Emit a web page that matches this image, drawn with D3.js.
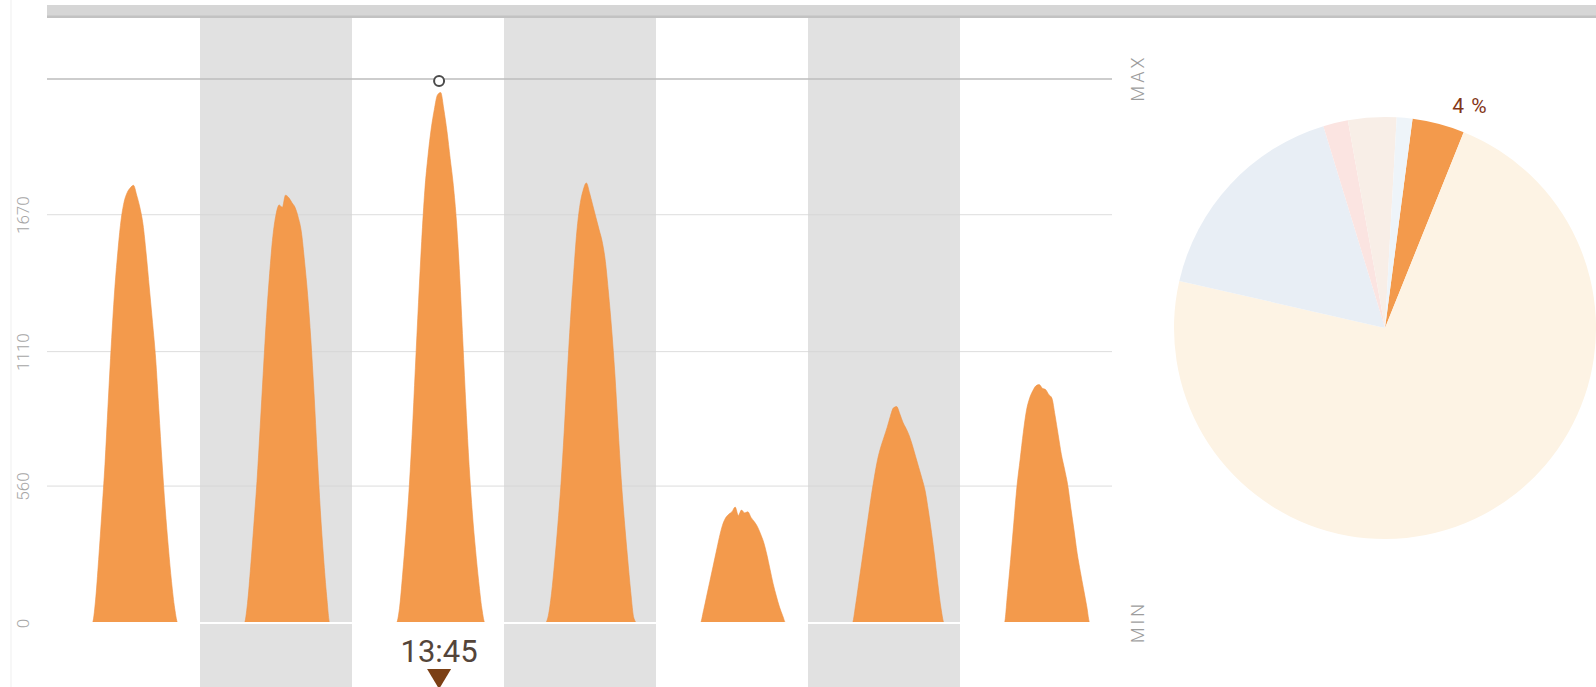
<!DOCTYPE html>
<html>
<head>
<meta charset="utf-8">
<script src="https://cdn.jsdelivr.net/npm/d3@7"></script>
<style>
  html, body { margin: 0; padding: 0; background: #ffffff; }
  svg { display: block; }
</style>
</head>
<body>
<svg id="chart" width="1596" height="687"></svg>
<script>
// Half-hourly output per day, from 06:00 to 22:00 (33 samples each)
const sampleStartHour = 6;
const sampleStepHours = 0.5;
const day1 = [0,0,0,90,260,450,650,900,1140,1350,1510,1640,1720,1760,1780,1790,1750,1700,1630,1510,1370,1230,1080,870,660,470,310,170,60,0,0,0,0];
const day2 = [0,0,0,80,230,400,580,800,1030,1250,1430,1580,1670,1710,1700,1750,1740,1720,1700,1660,1600,1480,1340,1160,940,690,460,270,110,0,0,0,0];
const day3 = [0,0,0,60,200,360,540,770,1040,1310,1560,1770,1910,2020,2100,2160,2170,2100,2010,1900,1790,1640,1420,1150,880,640,450,300,170,60,0,0,0];
const day4 = [0,0,30,120,250,400,570,780,1020,1240,1430,1600,1710,1770,1800,1760,1710,1660,1610,1560,1480,1350,1200,1020,800,590,420,270,130,20,0,0,0];
const day5 = [0,0,0,50,110,170,230,290,350,400,430,445,455,474,440,462,450,455,432,415,395,365,330,280,220,160,110,65,30,0,0,0,0];
const day6 = [0,0,0,70,160,250,340,430,520,600,670,720,760,800,845,880,885,855,820,795,765,725,680,635,590,540,460,370,270,160,60,0,0];
const day7 = [0,0,0,120,260,410,560,670,780,870,920,950,970,975,960,955,935,920,850,770,690,630,565,470,380,285,210,140,70,0,0,0,0];
const dailySeries = [day1, day2, day3, day4, day5, day6, day7];

// Axis ticks and reference levels
const yTickValues = [0, 560, 1110, 1670];
const yTickLabels = ["0", "560", "1110", "1670"];
const maxValue = 2225;
const refLabels = ["MAX", "MIN"];

// Highlighted peak
const peakDay = 2;
const peakHour = 13.75;
const peakLabel = "13:45";

// Share breakdown (pie), clockwise from the highlighted slice
const shareNames = ["current", "rest", "blue", "pink", "beige", "pale"];
const shareValues = [4, 72.5, 16.7, 1.9, 3.7, 1.2];
const shareColors = ["#f39a4c", "#fdf3e4", "#e8eef5", "#fbe4e1", "#f8eee7", "#eef4f9"];
const shareLabel = "4 %";

const svg = d3.select("#chart");
const W = 1596, H = 687;

const plotLeft = 48, plotRight = 1112;
const plotTop = 18;
const x = d3.scaleLinear().domain([0, 7 * 24]).range([plotLeft, plotRight]);
const y = d3.scaleLinear().domain([0, maxValue]).range([623, 79]);

// faint left frame line
svg.append("line").attr("x1", 11).attr("x2", 11).attr("y1", 0).attr("y2", H)
  .attr("stroke", "#efefef").attr("stroke-width", 1);

// alternating day bands
svg.append("g").selectAll("rect")
  .data(d3.range(7).filter(d => d % 2 === 1))
  .join("rect")
  .attr("x", d => x(d * 24))
  .attr("width", d => x((d + 1) * 24) - x(d * 24))
  .attr("y", plotTop)
  .attr("height", H - plotTop)
  .attr("fill", "#e1e1e1");

// top bar
svg.append("rect").attr("x", 47).attr("y", 5).attr("width", W - 47).attr("height", 13).attr("fill", "#d6d6d6");
svg.append("rect").attr("x", 47).attr("y", 15.5).attr("width", W - 47).attr("height", 2.5).attr("fill", "#c2c2c2");

// horizontal grid
svg.append("g").selectAll("line")
  .data(yTickValues.filter(v => v > 0))
  .join("line")
  .attr("x1", plotLeft - 1).attr("x2", plotRight)
  .attr("y1", d => y(d)).attr("y2", d => y(d))
  .attr("stroke", "#d4d4d4").attr("stroke-opacity", 0.8).attr("stroke-width", 1);

svg.append("line")
  .attr("x1", plotLeft - 1).attr("x2", plotRight)
  .attr("y1", y(maxValue)).attr("y2", y(maxValue))
  .attr("stroke", "#bcbcbc").attr("stroke-width", 1.4);

// daily production areas
const area = d3.area()
  .x((d, i) => x(d.day * 24 + sampleStartHour + i * sampleStepHours))
  .y0(y(0))
  .y1(d => y(d.v))
  .curve(d3.curveMonotoneX);

svg.append("g").selectAll("path")
  .data(dailySeries.map((vals, day) => vals.map(v => ({ day, v }))))
  .join("path")
  .attr("d", area)
  .attr("fill", "#f39a4c")
  .attr("stroke", "#ee9245")
  .attr("stroke-width", 0.6);

// zero baseline
svg.append("line")
  .attr("x1", plotLeft - 1).attr("x2", plotRight)
  .attr("y1", y(0)).attr("y2", y(0))
  .attr("stroke", "#ffffff").attr("stroke-width", 2.2);

// y axis labels, rotated
const yAxis = d3.axisLeft(y)
  .tickValues(yTickValues)
  .tickFormat((d, i) => yTickLabels[i])
  .tickSize(0);

const yAxisG = svg.append("g").attr("transform", "translate(23,0)").call(yAxis);
yAxisG.select(".domain").remove();
yAxisG.selectAll("text")
  .attr("x", 0)
  .attr("dy", "0.36em")
  .attr("transform", "rotate(-90)")
  .attr("text-anchor", "middle")
  .attr("fill", "#a6a6a6")
  .style("font-family", "Roboto, 'DejaVu Sans', sans-serif")
  .style("font-weight", 300)
  .style("font-size", "17px");

// MAX / MIN markers on the right
svg.append("g").selectAll("text")
  .data([maxValue, 0])
  .join("text")
  .attr("transform", d => `translate(1138,${y(d) - 1}) rotate(-90)`)
  .attr("text-anchor", "middle")
  .attr("dy", "0.36em")
  .attr("fill", "#9d9d9d")
  .style("font-family", "Roboto, 'DejaVu Sans', sans-serif")
  .style("font-weight", 300)
  .style("font-size", "18px")
  .style("letter-spacing", "3px")
  .text((d, i) => refLabels[i]);

// peak marker
const px = x(peakDay * 24 + peakHour);
svg.append("circle")
  .attr("cx", px).attr("cy", y(maxValue) + 2)
  .attr("r", 5)
  .attr("fill", "#ffffff")
  .attr("stroke", "#4a4a4a")
  .attr("stroke-width", 2);

svg.append("text")
  .attr("x", px).attr("y", 662)
  .attr("text-anchor", "middle")
  .attr("fill", "#54453a")
  .style("font-family", "Roboto, 'DejaVu Sans', sans-serif")
  .style("font-size", "31px")
  .text(peakLabel);

svg.append("path")
  .attr("d", d3.line()([[px - 12, 669], [px + 12, 669], [px, 689]]) + "Z")
  .attr("fill", "#7b3f14");

// share pie
const pieCx = 1385, pieCy = 328, pieR = 211;
const startAngle = 7.5 * Math.PI / 180;
const pie = d3.pie().sort(null).value(d => d).startAngle(startAngle).endAngle(startAngle + 2 * Math.PI);
const arc = d3.arc().innerRadius(0).outerRadius(pieR);
const pieG = svg.append("g").attr("transform", `translate(${pieCx},${pieCy})`);
pieG.selectAll("path")
  .data(pie(shareValues))
  .join("path")
  .attr("d", arc)
  .attr("fill", (d, i) => shareColors[i])
  .attr("class", (d, i) => "slice-" + shareNames[i]);

const firstSlice = pie(shareValues)[0];
const labelArc = d3.arc().innerRadius(pieR + 14).outerRadius(pieR + 14);
const lp = labelArc.centroid({ startAngle: firstSlice.endAngle, endAngle: firstSlice.endAngle });
pieG.append("text")
  .attr("x", lp[0] + 1).attr("y", lp[1] - 6)
  .attr("text-anchor", "middle")
  .attr("fill", "#823617")
  .style("font-family", "Roboto, 'DejaVu Sans', sans-serif")
  .style("font-size", "21px")
  .style("letter-spacing", "1px")
  .text(shareLabel);
</script>
</body>
</html>
